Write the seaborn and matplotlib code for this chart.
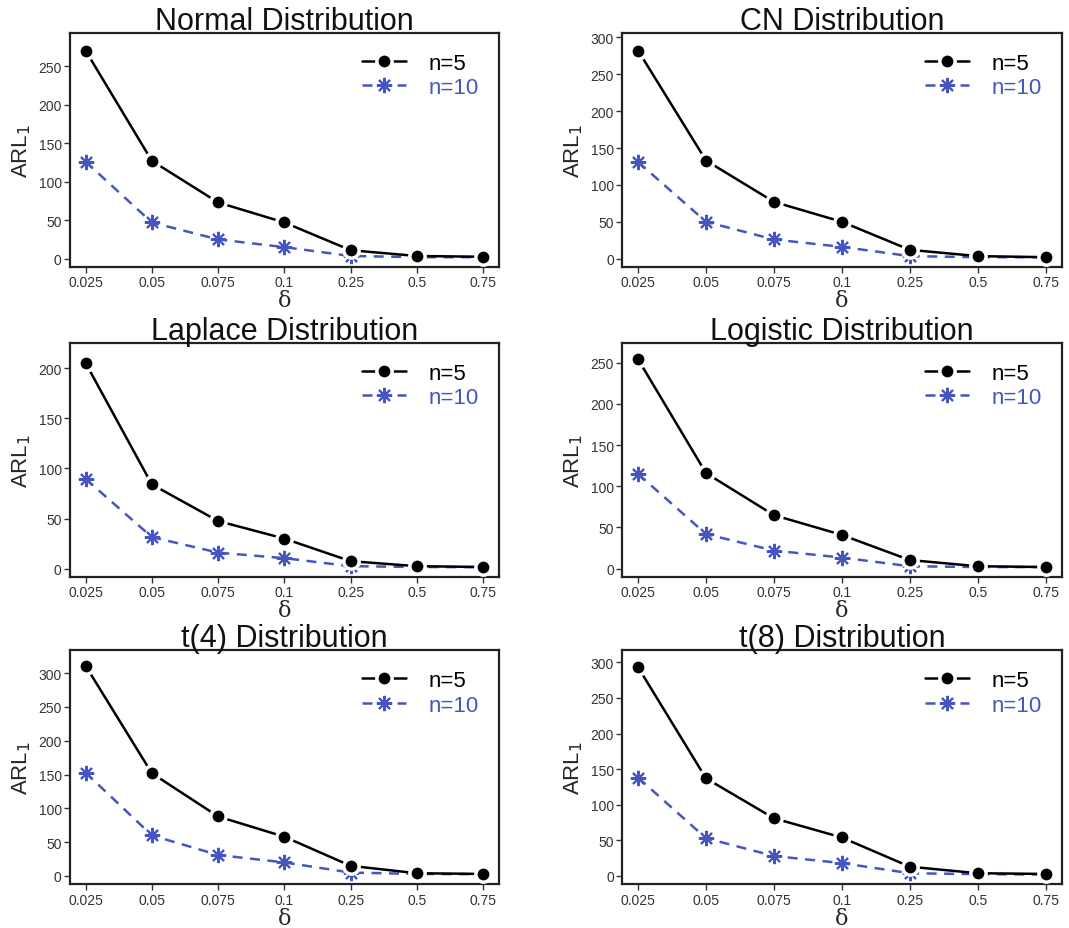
import numpy as np
import pandas as pd
import matplotlib
matplotlib.use("Agg")
import matplotlib.pyplot as plt
import seaborn as sns

delta_labels = ["0.025", "0.05", "0.075", "0.1", "0.25", "0.5", "0.75"]

titles = ["Normal Distribution", "CN Distribution",
          "Laplace Distribution", "Logistic Distribution",
          "t(4) Distribution", "t(8) Distribution"]

normal_n5 = [270, 127, 73, 47, 11, 3.5, 2.5]
normal_n10 = [126, 47, 25, 15, 3.5, 2, 2]
cn_n5 = [282, 133, 77, 50, 12, 3.5, 2]
cn_n10 = [131, 50, 26, 16, 3.5, 2, 2]
laplace_n5 = [205, 84, 47.5, 30, 7.5, 2.5, 1.7]
laplace_n10 = [89.5, 31.5, 16, 10.5, 2.5, 1.7, 1.5]
logistic_n5 = [254, 116, 65, 41, 10.5, 3, 2]
logistic_n10 = [115, 42, 22, 13.5, 3, 2, 2]
t4_n5 = [311, 152, 88, 58, 15, 4, 3]
t4_n10 = [153, 60, 31, 20, 5, 3, 2.5]
t8_n5 = [293, 137, 81, 54, 13, 3.8, 2.8]
t8_n10 = [138, 53, 28, 18, 3.8, 2.5, 2]

series = [(normal_n5, normal_n10), (cn_n5, cn_n10), (laplace_n5, laplace_n10),
          (logistic_n5, logistic_n10), (t4_n5, t4_n10), (t8_n5, t8_n10)]

ylims = [(-10.8, 293), (-11.3, 306), (-8.3, 225), (-10.1, 274), (-12.4, 334), (-11.8, 317)]

blue = "#4656C0"

sns.set_theme(style="white")
plt.rcParams["font.family"] = ["Liberation Sans", "DejaVu Sans"]

fig = plt.figure(figsize=(10.69, 9.29), dpi=100)

lefts = [0.0655, 0.582]
widths = [0.401, 0.411]
bottoms = [0.7115, 0.3778, 0.047]
height = 0.252

for i, (title, (s5, s10), yl) in enumerate(zip(titles, series, ylims)):
    r, c = divmod(i, 2)
    ax = fig.add_axes([lefts[c], bottoms[r], widths[c], height])
    idx = np.arange(len(delta_labels))
    df = pd.DataFrame({
        "x": np.concatenate([idx, idx]),
        "ARL": np.concatenate([s5, s10]),
        "n": ["n=5"] * len(idx) + ["n=10"] * len(idx),
    })
    sns.lineplot(data=df[df.n == "n=5"], x="x", y="ARL", ax=ax, color="black",
                 lw=1.8, marker="o", markersize=11, markeredgecolor="white",
                 markeredgewidth=2.5, label="n=5", zorder=3)
    sns.lineplot(data=df[df.n == "n=10"], x="x", y="ARL", ax=ax, color=blue,
                 lw=1.8, linestyle=(0, (4, 3)), marker=(8, 2, 0), markersize=11,
                 markeredgecolor=blue, markeredgewidth=1.5, label="n=10", zorder=2)
    ax.set_xlim(-0.235, 6.235)
    ax.set_ylim(*yl)
    ax.set_xticks(idx)
    ax.set_xticklabels(delta_labels)
    ax.set_yticks(np.arange(0, yl[1], 50))
    ax.tick_params(axis="both", which="major", direction="out", length=4, width=1,
                   labelsize=10, colors="#333333", pad=2, bottom=True, left=True)
    for sp in ax.spines.values():
        sp.set_color("#222222")
        sp.set_linewidth(1.6)
    ax.set_title(title, fontsize=22, pad=3, color="#111111")
    ax.set_xlabel("δ", fontsize=16, labelpad=0, family=["DejaVu Serif"])
    ax.set_ylabel(r"ARL$_1$", fontsize=16, labelpad=4)
    leg = ax.legend(loc="upper right", frameon=False, fontsize=16,
                    handlelength=2.0, handletextpad=1.0, borderaxespad=0.5,
                    labelspacing=0.15, borderpad=0.4)
    for txt, col in zip(leg.get_texts(), ["black", blue]):
        txt.set_color(col)

fig.savefig("out.png", dpi=100, facecolor="white")
